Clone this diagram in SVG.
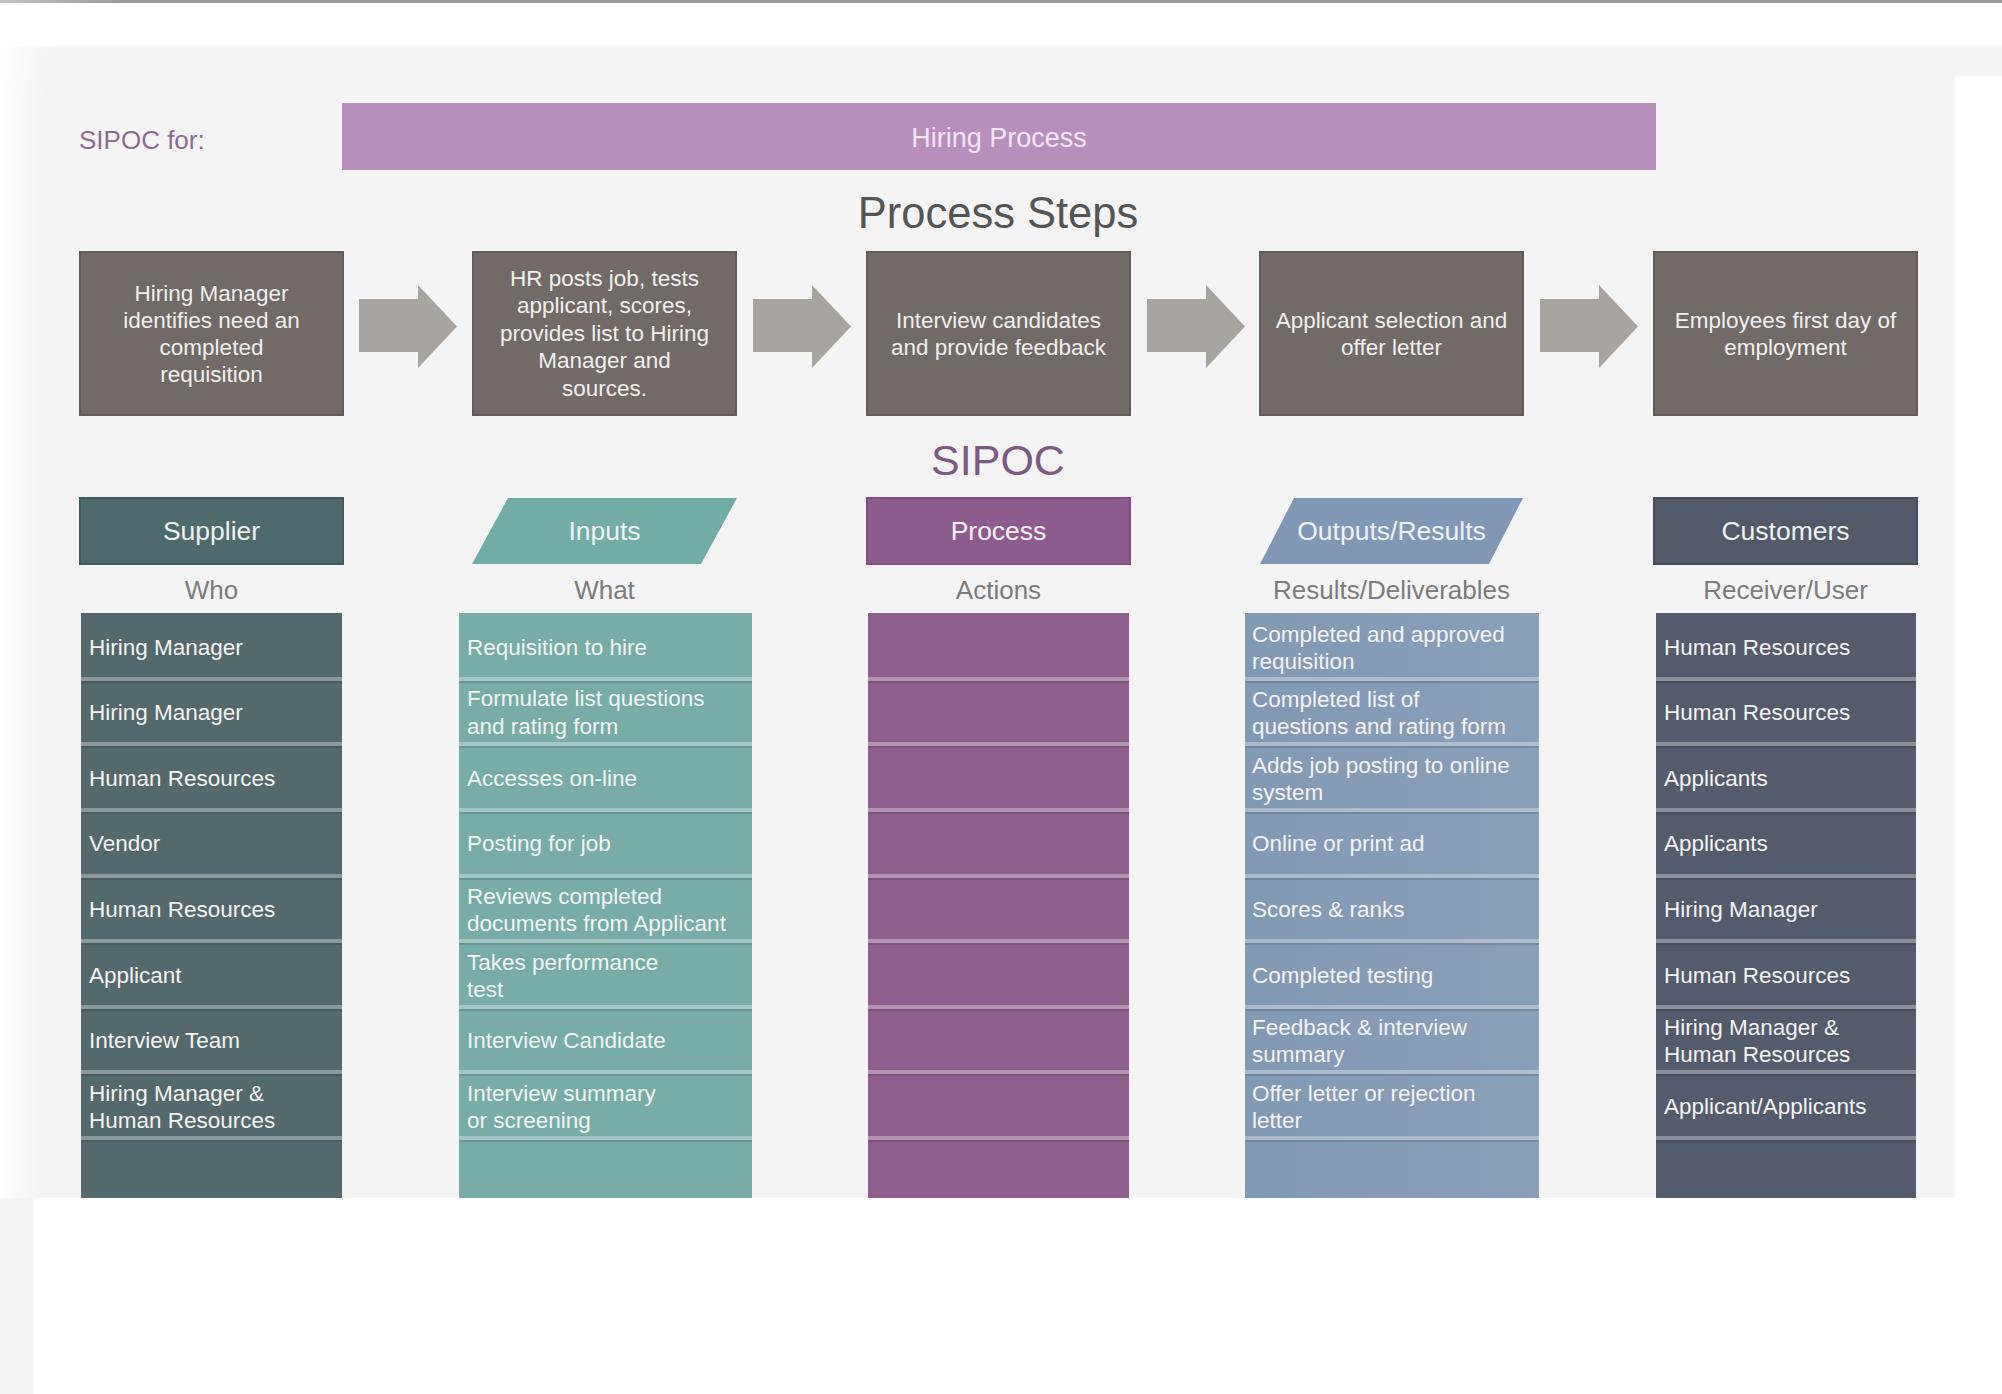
<svg xmlns="http://www.w3.org/2000/svg" width="2002" height="1394" viewBox="0 0 2002 1394">
<defs>
<style>
text{font-family:"Liberation Sans","DejaVu Sans",sans-serif;}
.step rect{fill:#716a66;stroke:#625b57;stroke-width:2;}
.step text{fill:#f1efee;font-size:22.5px;text-anchor:middle;dominant-baseline:central;}
.hdr text{fill:#eef2f3;font-size:26.5px;text-anchor:middle;dominant-baseline:central;}
.sub{fill:#7c7c7c;font-size:26px;text-anchor:middle;dominant-baseline:central;}
.row text{fill:#f3f3f3;font-size:22.5px;dominant-baseline:central;}
.sep{fill:#ffffff;fill-opacity:0.32;}
.sepd{fill:#000000;fill-opacity:0.12;}
.arrow{fill:#a8a5a0;}
</style>
<linearGradient id="leftfade" x1="0" y1="0" x2="1" y2="0">
<stop offset="0" stop-color="#ffffff" stop-opacity="0.9"/>
<stop offset="1" stop-color="#ffffff" stop-opacity="0"/>
</linearGradient>
<radialGradient id="cornerfade" cx="0" cy="0" r="1">
<stop offset="0" stop-color="#ffffff" stop-opacity="1"/>
<stop offset="1" stop-color="#ffffff" stop-opacity="0"/>
</radialGradient>
<linearGradient id="outgrad" x1="0" y1="0" x2="1" y2="0">
<stop offset="0" stop-color="#8299b4"/>
<stop offset="1" stop-color="#8a9fb8"/>
</linearGradient>
</defs>

<!-- background -->
<rect x="0" y="0" width="2002" height="1394" fill="#ffffff"/>
<rect x="0" y="0" width="2002" height="3" fill="#9a9a9a"/>
<rect x="0" y="46" width="2002" height="30" fill="#f4f4f4"/>
<rect x="0" y="46" width="1955" height="1152" fill="#f4f4f4"/>
<rect x="0" y="1198" width="33" height="196" fill="#f4f4f4"/>
<rect x="0" y="46" width="45" height="1152" fill="url(#leftfade)"/>
<ellipse cx="0" cy="46" rx="140" ry="120" fill="url(#cornerfade)"/>

<!-- title -->
<g id="title">
<text x="79" y="140" font-size="26" fill="#8c6c8f" dominant-baseline="central">SIPOC for:</text>
<rect x="342" y="103" width="1314" height="67" fill="#b78fbb"/>
<text x="999" y="138" font-size="27" fill="#f1e6f2" text-anchor="middle" dominant-baseline="central">Hiring Process</text>
</g>

<text id="process-steps-title" x="998" y="213" font-size="43.5" fill="#555555" text-anchor="middle" dominant-baseline="central">Process Steps</text>

<!-- process step nodes -->
<g id="step1" class="step">
<rect x="80" y="252" width="263" height="163"/>
<text x="211.5" y="293">Hiring Manager</text>
<text x="211.5" y="320">identifies need an</text>
<text x="211.5" y="347">completed</text>
<text x="211.5" y="374">requisition</text>
</g>
<g id="step2" class="step">
<rect x="473" y="252" width="263" height="163"/>
<text x="604.5" y="278">HR posts job, tests</text>
<text x="604.5" y="305.5">applicant, scores,</text>
<text x="604.5" y="333">provides list to Hiring</text>
<text x="604.5" y="360.5">Manager and</text>
<text x="604.5" y="388">sources.</text>
</g>
<g id="step3" class="step">
<rect x="867" y="252" width="263" height="163"/>
<text x="998.5" y="320">Interview candidates</text>
<text x="998.5" y="347">and provide feedback</text>
</g>
<g id="step4" class="step">
<rect x="1260" y="252" width="263" height="163"/>
<text x="1391.5" y="320">Applicant selection and</text>
<text x="1391.5" y="347">offer letter</text>
</g>
<g id="step5" class="step">
<rect x="1654" y="252" width="263" height="163"/>
<text x="1785.5" y="320">Employees first day of</text>
<text x="1785.5" y="347">employment</text>
</g>

<!-- connectors -->
<g id="connectors">
<polygon class="arrow" points="359,299 418,299 418,285 457,326.5 418,368 418,352 359,352"/>
<polygon class="arrow" points="753,299 812,299 812,285 851,326.5 812,368 812,352 753,352"/>
<polygon class="arrow" points="1147,299 1206,299 1206,285 1245,326.5 1206,368 1206,352 1147,352"/>
<polygon class="arrow" points="1540,299 1599,299 1599,285 1638,326.5 1599,368 1599,352 1540,352"/>
</g>

<text id="sipoc-title" x="998" y="460" font-size="43" fill="#7d5a83" text-anchor="middle" dominant-baseline="central">SIPOC</text>

<!-- headers -->
<g id="hdr-supplier" class="hdr">
<rect x="80" y="498" width="263" height="66" fill="#4e6a6c" stroke="#43595b" stroke-width="2"/>
<text x="211.5" y="531">Supplier</text>
</g>
<g id="hdr-inputs" class="hdr">
<polygon points="508,498 737,498 701,564 472,564" fill="#72aca6"/>
<text x="604.5" y="531">Inputs</text>
</g>
<g id="hdr-process" class="hdr">
<rect x="867" y="498" width="263" height="66" fill="#8e5b8f" stroke="#7e4f80" stroke-width="2"/>
<text x="998.5" y="531">Process</text>
</g>
<g id="hdr-outputs" class="hdr">
<polygon points="1294,498 1523,498 1489,564 1260,564" fill="#8098b5"/>
<text x="1391.5" y="531">Outputs/Results</text>
</g>
<g id="hdr-customers" class="hdr">
<rect x="1654" y="498" width="263" height="66" fill="#525969" stroke="#464c5b" stroke-width="2"/>
<text x="1785.5" y="531">Customers</text>
</g>

<text class="sub" x="211.5" y="590">Who</text>
<text class="sub" x="604.5" y="590">What</text>
<text class="sub" x="998.5" y="590">Actions</text>
<text class="sub" x="1391.5" y="590">Results/Deliverables</text>
<text class="sub" x="1785.5" y="590">Receiver/User</text>

<!-- Supplier column -->
<g id="col-supplier" class="row">
<rect x="81" y="613" width="261" height="585" fill="#53696b"/>
<g>
<rect class="sep" x="81" y="677" width="261" height="4"/><rect class="sepd" x="81" y="681" width="261" height="2"/>
<rect class="sep" x="81" y="742" width="261" height="4"/><rect class="sepd" x="81" y="746" width="261" height="2"/>
<rect class="sep" x="81" y="808" width="261" height="4"/><rect class="sepd" x="81" y="812" width="261" height="2"/>
<rect class="sep" x="81" y="874" width="261" height="4"/><rect class="sepd" x="81" y="878" width="261" height="2"/>
<rect class="sep" x="81" y="939" width="261" height="4"/><rect class="sepd" x="81" y="943" width="261" height="2"/>
<rect class="sep" x="81" y="1005" width="261" height="4"/><rect class="sepd" x="81" y="1009" width="261" height="2"/>
<rect class="sep" x="81" y="1070" width="261" height="4"/><rect class="sepd" x="81" y="1074" width="261" height="2"/>
<rect class="sep" x="81" y="1136" width="261" height="4"/><rect class="sepd" x="81" y="1140" width="261" height="2"/>
</g>
<text x="89" y="647">Hiring Manager</text>
<text x="89" y="712">Hiring Manager</text>
<text x="89" y="778">Human Resources</text>
<text x="89" y="843">Vendor</text>
<text x="89" y="909">Human Resources</text>
<text x="89" y="975">Applicant</text>
<text x="89" y="1040">Interview Team</text>
<text x="89" y="1093">Hiring Manager &amp;</text>
<text x="89" y="1120">Human Resources</text>
</g>

<!-- Inputs column -->
<g id="col-inputs" class="row">
<rect x="459" y="613" width="293" height="585" fill="#77aca7"/>
<g>
<rect class="sep" x="459" y="677" width="293" height="4"/><rect class="sepd" x="459" y="681" width="293" height="2"/>
<rect class="sep" x="459" y="742" width="293" height="4"/><rect class="sepd" x="459" y="746" width="293" height="2"/>
<rect class="sep" x="459" y="808" width="293" height="4"/><rect class="sepd" x="459" y="812" width="293" height="2"/>
<rect class="sep" x="459" y="874" width="293" height="4"/><rect class="sepd" x="459" y="878" width="293" height="2"/>
<rect class="sep" x="459" y="939" width="293" height="4"/><rect class="sepd" x="459" y="943" width="293" height="2"/>
<rect class="sep" x="459" y="1005" width="293" height="4"/><rect class="sepd" x="459" y="1009" width="293" height="2"/>
<rect class="sep" x="459" y="1070" width="293" height="4"/><rect class="sepd" x="459" y="1074" width="293" height="2"/>
<rect class="sep" x="459" y="1136" width="293" height="4"/><rect class="sepd" x="459" y="1140" width="293" height="2"/>
</g>
<text x="467" y="647">Requisition to hire</text>
<text x="467" y="698">Formulate list questions</text>
<text x="467" y="726">and rating form</text>
<text x="467" y="778">Accesses on-line</text>
<text x="467" y="843">Posting for job</text>
<text x="467" y="896">Reviews completed</text>
<text x="467" y="923">documents from Applicant</text>
<text x="467" y="962">Takes performance</text>
<text x="467" y="989">test</text>
<text x="467" y="1040">Interview Candidate</text>
<text x="467" y="1093">Interview summary</text>
<text x="467" y="1120">or screening</text>
</g>

<!-- Process column -->
<g id="col-process" class="row">
<rect x="868" y="613" width="261" height="585" fill="#8f5f8e"/>
<g>
<rect class="sep" x="868" y="677" width="261" height="4"/><rect class="sepd" x="868" y="681" width="261" height="2"/>
<rect class="sep" x="868" y="742" width="261" height="4"/><rect class="sepd" x="868" y="746" width="261" height="2"/>
<rect class="sep" x="868" y="808" width="261" height="4"/><rect class="sepd" x="868" y="812" width="261" height="2"/>
<rect class="sep" x="868" y="874" width="261" height="4"/><rect class="sepd" x="868" y="878" width="261" height="2"/>
<rect class="sep" x="868" y="939" width="261" height="4"/><rect class="sepd" x="868" y="943" width="261" height="2"/>
<rect class="sep" x="868" y="1005" width="261" height="4"/><rect class="sepd" x="868" y="1009" width="261" height="2"/>
<rect class="sep" x="868" y="1070" width="261" height="4"/><rect class="sepd" x="868" y="1074" width="261" height="2"/>
<rect class="sep" x="868" y="1136" width="261" height="4"/><rect class="sepd" x="868" y="1140" width="261" height="2"/>
</g>
</g>

<!-- Outputs column -->
<g id="col-outputs" class="row">
<rect x="1245" y="613" width="294" height="585" fill="url(#outgrad)"/>
<g>
<rect class="sep" x="1245" y="677" width="294" height="4"/><rect class="sepd" x="1245" y="681" width="294" height="2"/>
<rect class="sep" x="1245" y="742" width="294" height="4"/><rect class="sepd" x="1245" y="746" width="294" height="2"/>
<rect class="sep" x="1245" y="808" width="294" height="4"/><rect class="sepd" x="1245" y="812" width="294" height="2"/>
<rect class="sep" x="1245" y="874" width="294" height="4"/><rect class="sepd" x="1245" y="878" width="294" height="2"/>
<rect class="sep" x="1245" y="939" width="294" height="4"/><rect class="sepd" x="1245" y="943" width="294" height="2"/>
<rect class="sep" x="1245" y="1005" width="294" height="4"/><rect class="sepd" x="1245" y="1009" width="294" height="2"/>
<rect class="sep" x="1245" y="1070" width="294" height="4"/><rect class="sepd" x="1245" y="1074" width="294" height="2"/>
<rect class="sep" x="1245" y="1136" width="294" height="4"/><rect class="sepd" x="1245" y="1140" width="294" height="2"/>
</g>
<text x="1252" y="634">Completed and approved</text>
<text x="1252" y="661">requisition</text>
<text x="1252" y="699">Completed list of</text>
<text x="1252" y="726">questions and rating form</text>
<text x="1252" y="765">Adds job posting to online</text>
<text x="1252" y="792">system</text>
<text x="1252" y="843">Online or print ad</text>
<text x="1252" y="909">Scores &amp; ranks</text>
<text x="1252" y="975">Completed testing</text>
<text x="1252" y="1027">Feedback &amp; interview</text>
<text x="1252" y="1054">summary</text>
<text x="1252" y="1093">Offer letter or rejection</text>
<text x="1252" y="1120">letter</text>
</g>

<!-- Customers column -->
<g id="col-customers" class="row">
<rect x="1656" y="613" width="260" height="585" fill="#545b6c"/>
<g>
<rect class="sep" x="1656" y="677" width="260" height="4"/><rect class="sepd" x="1656" y="681" width="260" height="2"/>
<rect class="sep" x="1656" y="742" width="260" height="4"/><rect class="sepd" x="1656" y="746" width="260" height="2"/>
<rect class="sep" x="1656" y="808" width="260" height="4"/><rect class="sepd" x="1656" y="812" width="260" height="2"/>
<rect class="sep" x="1656" y="874" width="260" height="4"/><rect class="sepd" x="1656" y="878" width="260" height="2"/>
<rect class="sep" x="1656" y="939" width="260" height="4"/><rect class="sepd" x="1656" y="943" width="260" height="2"/>
<rect class="sep" x="1656" y="1005" width="260" height="4"/><rect class="sepd" x="1656" y="1009" width="260" height="2"/>
<rect class="sep" x="1656" y="1070" width="260" height="4"/><rect class="sepd" x="1656" y="1074" width="260" height="2"/>
<rect class="sep" x="1656" y="1136" width="260" height="4"/><rect class="sepd" x="1656" y="1140" width="260" height="2"/>
</g>
<text x="1664" y="647">Human Resources</text>
<text x="1664" y="712">Human Resources</text>
<text x="1664" y="778">Applicants</text>
<text x="1664" y="843">Applicants</text>
<text x="1664" y="909">Hiring Manager</text>
<text x="1664" y="975">Human Resources</text>
<text x="1664" y="1027">Hiring Manager &amp;</text>
<text x="1664" y="1054">Human Resources</text>
<text x="1664" y="1106">Applicant/Applicants</text>
</g>
</svg>
